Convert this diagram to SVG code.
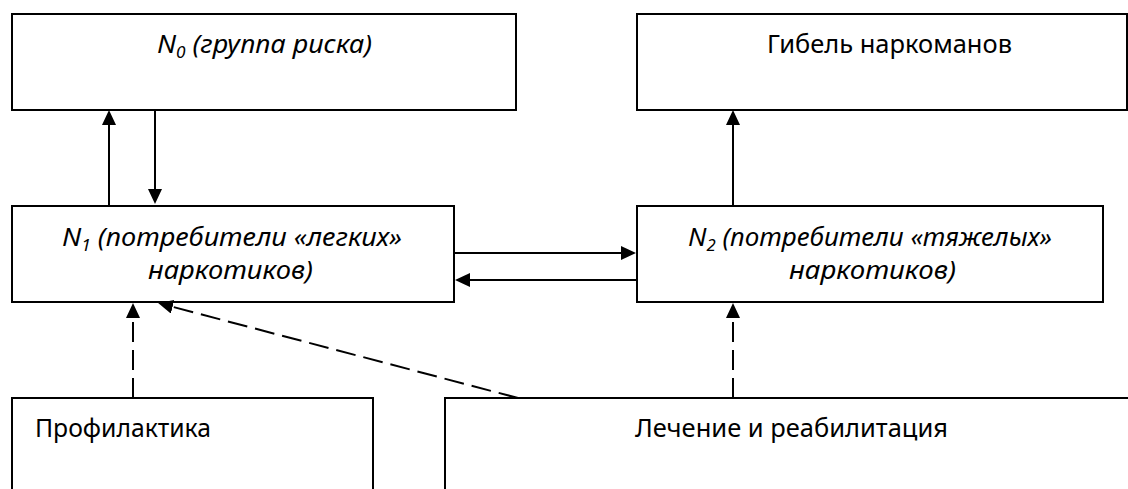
<svg xmlns="http://www.w3.org/2000/svg" width="1128" height="489" viewBox="0 0 1128 489">
  <style>
    .box { fill: #ffffff; stroke: #000000; stroke-width: 2; }
    .lbl { font-family: "Noto Sans", "Liberation Sans", sans-serif; font-size: 25px; fill: #000000; }
    .it { font-style: italic; }
    .con { fill: none; stroke: #000000; stroke-width: 2; }
    .dash { stroke-dasharray: 20 8; }
  </style>
  <defs>
    <marker id="arr" markerUnits="userSpaceOnUse" markerWidth="16" markerHeight="15" refX="11" refY="7" orient="auto">
      <path d="M0,0 L15,7 L0,14 Z" fill="#000000"/>
    </marker>
  </defs>
  <rect width="1128" height="489" fill="#ffffff"/>

  <g id="node-n0">
    <rect class="box" x="12" y="14" width="504" height="96"/>
    <text class="lbl it" x="157" y="53" textLength="215" lengthAdjust="spacingAndGlyphs">N<tspan font-size="16" dy="5">0</tspan><tspan dy="-5"> (группа риска)</tspan></text>
  </g>
  <g id="node-death">
    <rect class="box" x="637" y="14" width="490" height="96"/>
    <text class="lbl" x="767" y="53" textLength="245" lengthAdjust="spacingAndGlyphs">Гибель наркоманов</text>
  </g>
  <g id="node-n1">
    <rect class="box" x="12" y="206" width="442" height="96"/>
    <text class="lbl it" x="62" y="246" textLength="340" lengthAdjust="spacingAndGlyphs">N<tspan font-size="16" dy="5">1</tspan><tspan dy="-5"> (потребители «легких»</tspan></text>
    <text class="lbl it" x="148" y="279" textLength="165" lengthAdjust="spacingAndGlyphs">наркотиков)</text>
  </g>
  <g id="node-n2">
    <rect class="box" x="637" y="206" width="466" height="96"/>
    <text class="lbl it" x="688" y="246" textLength="364" lengthAdjust="spacingAndGlyphs">N<tspan font-size="16" dy="5">2</tspan><tspan dy="-5"> (потребители «тяжелых»</tspan></text>
    <text class="lbl it" x="789" y="279" textLength="167" lengthAdjust="spacingAndGlyphs">наркотиков)</text>
  </g>
  <g id="node-prevention">
    <rect class="box" x="12" y="398" width="361" height="100"/>
    <text class="lbl" x="35" y="437" textLength="176" lengthAdjust="spacingAndGlyphs">Профилактика</text>
  </g>
  <g id="node-treatment">
    <rect class="box" x="445" y="398" width="690" height="100"/>
    <text class="lbl" x="635" y="437" textLength="313" lengthAdjust="spacingAndGlyphs">Лечение и реабилитация</text>
  </g>

  <g id="connectors">
    <path class="con" d="M109,206 L109,114" marker-end="url(#arr)"/>
    <path class="con" d="M155,110 L155,200" marker-end="url(#arr)"/>
    <path class="con" d="M733,206 L733,114" marker-end="url(#arr)"/>
    <path class="con" d="M454,253 L632,253" marker-end="url(#arr)"/>
    <path class="con" d="M638,280 L459,280" marker-end="url(#arr)"/>
    <path class="con dash" d="M133,398 L133,307" marker-end="url(#arr)"/>
    <path class="con dash" d="M518,398 L162,304" marker-end="url(#arr)"/>
    <path class="con dash" d="M733,398 L733,307" marker-end="url(#arr)"/>
  </g>
</svg>
